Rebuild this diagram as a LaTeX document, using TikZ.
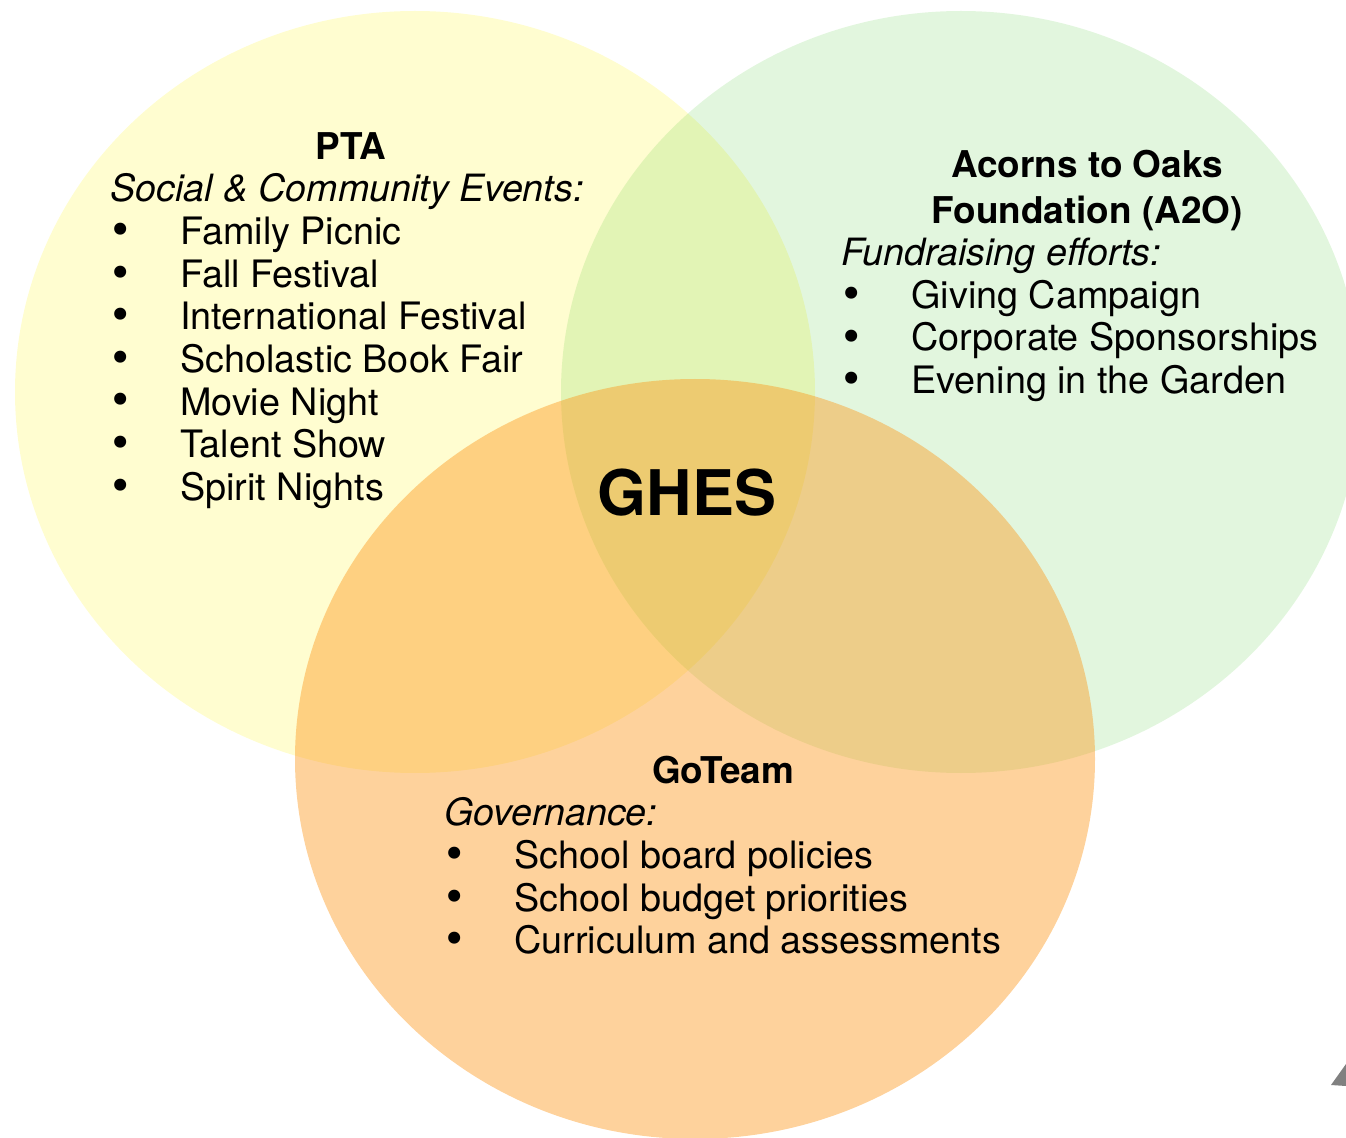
\documentclass[tikz,border=0pt]{standalone}
\usepackage{fontspec}
\setmainfont{TeX Gyre Heros}
\newfontfamily\dotfont{DejaVu Sans}
\definecolor{ptayellow}{HTML}{FFFDD0}
\definecolor{aogreen}{RGB}{32,186,0}
\definecolor{goorange}{RGB}{253,148,20}
\begin{document}
\begin{tikzpicture}[x=0.02cm, y=-0.02cm,
    every node/.style={inner sep=0pt, text=black, font=\fontsize{21.5}{25}\selectfont},
    listitem/.style={anchor=base west},
    listdot/.style={anchor=base, font=\fontsize{23.5}{24}\dotfont},
    heading/.style={anchor=base, font=\fontsize{21}{25}\selectfont\bfseries},
    subheading/.style={anchor=base west, font=\fontsize{21.4}{25}\selectfont\itshape}]
        \useasboundingbox (0,0) rectangle (1346,1138);
        \clip (0,0) rectangle (1346,1138);

        % circles
        \fill[ptayellow] (415,392) ellipse [x radius=400, y radius=381];
        \fill[aogreen, fill opacity=0.13] (961,392) ellipse [x radius=400, y radius=381];
        \fill[goorange, fill opacity=0.42] (695,759) ellipse [x radius=400, y radius=380];

        % PTA
        \node[heading] (pta) at (351,160) {PTA};
        \node[subheading] (ptasub) at (110,202) {Social \& Community Events:};
        \foreach \name [count=\i] in {Family Picnic, Fall Festival, International Festival, Scholastic Book Fair, Movie Night, Talent Show, Spirit Nights} {
            \node[listdot] (ptadot\i) at (121,{202+42.6*\i}) {•};
            \node[listitem] (ptaitem\i) at (180,{202.2+42.6*\i}) {\name};
        }

        % A2O
        \node[heading] (acorns) at (1087,178) {Acorns to Oaks};
        \node[heading] (foundation) at (1087,224) {Foundation (A2O)};
        \node[subheading] (aosub) at (841,266) {Fundraising efforts:};
        \foreach \name [count=\i] in {Giving Campaign, Corporate Sponsorships, Evening in the Garden} {
            \node[listdot] (aodot\i) at (852,{266+42.6*\i}) {•};
            \node[listitem] (aoitem\i) at (911,{265.8+42.6*\i}) {\name};
        }

        % GoTeam
        \node[heading] (goteam) at (723,783) {GoTeam};
        \node[subheading] (gosub) at (444,825.5) {Governance:};
        \foreach \name [count=\i] in {School board policies, School budget priorities, Curriculum and assessments} {
            \node[listdot] (godot\i) at (455,{826+42.6*\i}) {•};
            \node[listitem] (goitem\i) at (514,{825.8+42.6*\i}) {\name};
        }

        \node[anchor=base, font=\fontsize{35.8}{40}\selectfont\bfseries] (ghes) at (687,516) {GHES};

        % scrap of another picture at the edge
        \fill[black!50] (1346,1064) -- (1331,1085) -- (1346,1086) -- cycle;
    \end{tikzpicture}
\end{document}
